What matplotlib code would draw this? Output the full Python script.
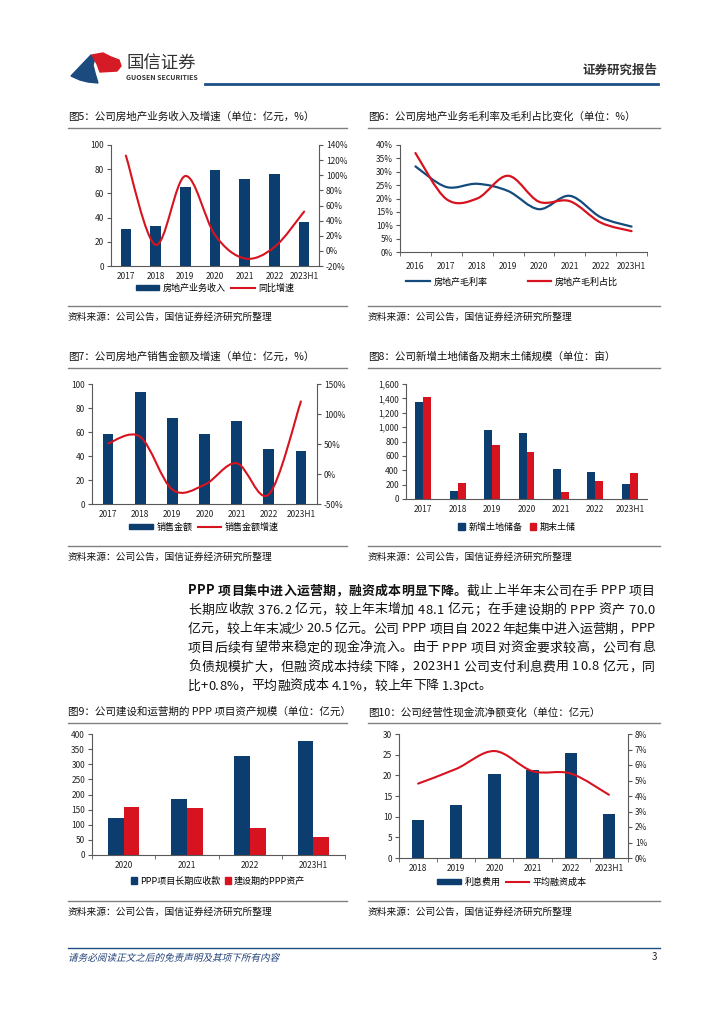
import matplotlib
matplotlib.use('Agg')
import matplotlib.pyplot as plt
from matplotlib.path import Path
from matplotlib.patches import PathPatch, Polygon, Patch
from matplotlib.lines import Line2D
from matplotlib.ticker import FuncFormatter
from matplotlib.textpath import TextPath
from matplotlib.font_manager import FontProperties
from matplotlib.transforms import Affine2D, IdentityTransform
import numpy as np

plt.rcParams['font.family'] = ['Noto Sans CJK SC', 'DejaVu Sans']
plt.rcParams['axes.unicode_minus'] = False

# ---- data ----
years5 = ['2017', '2018', '2019', '2020', '2021', '2022', '2023H1']
revenue5 = [30.3, 32.9, 65.4, 79.3, 71.7, 76.1, 36.1]
growth5 = [126, 8, 99, 21, -10, 5, 52]

years6 = ['2016', '2017', '2018', '2019', '2020', '2021', '2022', '2023H1']
margin6 = [32.0, 24.3, 25.5, 22.8, 16.0, 21.0, 13.0, 9.5]
share6 = [37.0, 19.8, 20.0, 28.5, 18.8, 19.0, 11.0, 7.8]

years7 = ['2017', '2018', '2019', '2020', '2021', '2022', '2023H1']
sales7 = [58.5, 93.5, 71.5, 58.5, 69.0, 45.5, 44.5]
sales_growth7 = [51, 62, -26, -18, 18, -34, 121]

years8 = ['2017', '2018', '2019', '2020', '2021', '2022', '2023H1']
new_land8 = [1345, 116, 965, 923, 417, 376, 209]
land_bank8 = [1415, 218, 751, 649, 97, 255, 362]

years9 = ['2020', '2021', '2022', '2023H1']
ppp_recv9 = [121, 185, 328.1, 376.2]
ppp_build9 = [159, 156.5, 90.5, 60.5]

years10 = ['2018', '2019', '2020', '2021', '2022', '2023H1']
interest10 = [9.2, 12.85, 20.4, 21.3, 25.5, 10.7]
fin_cost10 = [4.8, 5.75, 6.9, 5.6, 5.45, 4.08]

# each line: list of (text, bold)
para = [
    [('PPP 项目集中进入运营期，融资成本明显下降。', True), ('截止上半年末公司在手 PPP 项目', False)],
    [('长期应收款 376.2 亿元，较上年末增加 48.1 亿元；在手建设期的 PPP 资产 70.0', False)],
    [('亿元，较上年末减少 20.5 亿元。公司 PPP 项目自 2022 年起集中进入运营期，PPP', False)],
    [('项目后续有望带来稳定的现金净流入。由于 PPP 项目对资金要求较高，公司有息', False)],
    [('负债规模扩大，但融资成本持续下降，2023H1 公司支付利息费用 10.8 亿元，同', False)],
    [('比+0.8%，平均融资成本 4.1%，较上年下降 1.3pct。', False)],
]

NAVY = '#0B3D6F'
RED = '#D7131F'
LINE_BLUE = '#134B7D'
GREY = '#595959'

W, H = 724, 1024
fig = plt.figure(figsize=(7.24, 10.24), dpi=100)
renderer = fig.canvas.get_renderer()


def box(l, t, r, b):
    return [l / W, 1 - b / H, (r - l) / W, (b - t) / H]


def fx(x):
    return x / W


def fy(y):
    return 1 - y / H


def smooth(ax, xs, ys, color, lw):
    # Excel-style smoothed line as cubic bezier segments
    p = np.column_stack([xs, ys]).astype(float)
    n = len(p)
    verts = [p[0]]
    codes = [Path.MOVETO]
    for i in range(n - 1):
        p0 = p[max(i - 1, 0)]
        p1 = p[i]
        p2 = p[i + 1]
        p3 = p[min(i + 2, n - 1)]
        verts += [p1 + (p2 - p0) / 6, p2 - (p3 - p1) / 6, p2]
        codes += [Path.CURVE4] * 3
    ax.add_patch(PathPatch(Path(verts, codes), fill=False, edgecolor=color,
                           lw=lw, capstyle='round', joinstyle='round'))


def frame(title, x0, x1, yt, ys):
    fig.text(fx(x0), fy(yt), title, fontsize=7.6, va='center', ha='left', color='#111111')
    fig.add_artist(Line2D([fx(x0), fx(x1)], [fy(yt + 11)] * 2, color='#808080', lw=1))
    fig.add_artist(Line2D([fx(x0), fx(x1)], [fy(ys - 11)] * 2, color='#808080', lw=1))
    fig.text(fx(x0), fy(ys), '资料来源：公司公告，国信证券经济研究所整理', fontsize=7,
             va='center', ha='left', color='#111111')


def style(ax, boundary_ticks=False, n=0):
    for s in ['top', 'right']:
        ax.spines[s].set_visible(False)
    ax.spines['left'].set_color(GREY)
    ax.spines['bottom'].set_color(GREY)
    ax.tick_params(axis='y', labelsize=6, length=3, color=GREY, labelcolor='#222222', pad=2)
    ax.tick_params(axis='x', labelsize=6, length=0, labelcolor='#222222', pad=4)
    if boundary_ticks:
        ax.set_xticks(np.arange(n + 1) - 0.5, minor=True)
        ax.tick_params(axis='x', which='minor', length=3, color=GREY)


def right_axis(ax, lo, hi, step):
    ax2 = ax.twinx()
    ax2.set_ylim(lo, hi)
    ax2.set_yticks(range(lo, hi + 1, step))
    ax2.yaxis.set_major_formatter(pct)
    for s in ['top', 'left', 'bottom']:
        ax2.spines[s].set_visible(False)
    ax2.spines['right'].set_color(GREY)
    ax2.tick_params(axis='y', labelsize=6, length=3, color=GREY, labelcolor='#222222', pad=2)
    return ax2


pct = FuncFormatter(lambda v, p: '%d%%' % v)

# ---- header ----
fig.add_artist(Polygon([(fx(71), fy(76)), (fx(91), fy(55)), (fx(95), fy(58)), (fx(93), fy(65)),
                        (fx(95), fy(73)), (fx(98), fy(83)), (fx(88), fy(82)), (fx(80), fy(80))],
                       closed=True, color='#1A4A7E', transform=fig.transFigure))
fig.add_artist(Polygon([(fx(92), fy(55)), (fx(103), fy(53)), (fx(111), fy(57)), (fx(119), fy(60)),
                        (fx(121), fy(66)), (fx(117), fy(71)), (fx(100), fy(72)), (fx(97), fy(64))],
                       closed=True, color='#D51B25', transform=fig.transFigure))
fig.text(fx(126), fy(64), '国信证券', fontsize=12.5, color='#333333', va='center', ha='left')
fig.text(fx(126), fy(78), 'GUOSEN SECURITIES', fontsize=5, color='#333333', va='center',
         ha='left', weight='bold')
fig.add_artist(Line2D([fx(205), fx(658)], [fy(84)] * 2, color='#1F4E85', lw=2))
fig.text(fx(657), fy(70), '证券研究报告', fontsize=9, weight='bold', color='#333333',
         va='center', ha='right')

# ---- chart 5 ----
frame('图5：公司房地产业务收入及增速（单位：亿元，%）', 68, 347, 117, 317)
ax = fig.add_axes(box(111, 145, 319, 266))
x = np.arange(len(years5))
ax.bar(x, revenue5, width=0.36, color=NAVY)
ax.set_xlim(-0.5, len(years5) - 0.5)
ax.set_ylim(0, 100)
ax.set_yticks(range(0, 101, 20))
ax.set_xticks(x)
ax.set_xticklabels(years5)
style(ax)
ax2 = right_axis(ax, -20, 140, 20)
smooth(ax2, x, growth5, RED, 1.5)
fig.legend([Patch(color=NAVY), Line2D([], [], color=RED, lw=1.5)], ['房地产业务收入', '同比增速'],
           loc='center', bbox_to_anchor=(fx(215), fy(288)), ncol=2, frameon=False, fontsize=6.5,
           handlelength=2.6, handleheight=0.6, columnspacing=0.6, handletextpad=0.4)

# ---- chart 6 ----
frame('图6：公司房地产业务毛利率及毛利占比变化（单位：%）', 368, 660, 117, 317)
ax = fig.add_axes(box(400, 145, 647, 252))
x = np.arange(len(years6))
ax.set_xlim(-0.5, len(years6) - 0.5)
ax.set_ylim(0, 40)
ax.set_yticks(range(0, 41, 5))
ax.yaxis.set_major_formatter(pct)
ax.set_xticks(x)
ax.set_xticklabels(years6)
style(ax, boundary_ticks=True, n=len(years6))
ax.tick_params(axis='x', pad=7)
smooth(ax, x, margin6, LINE_BLUE, 1.6)
smooth(ax, x, share6, RED, 1.6)
fig.legend([Line2D([], [], color=LINE_BLUE, lw=1.6), Line2D([], [], color=RED, lw=1.6)],
           ['房地产毛利率', '房地产毛利占比'], loc='center', bbox_to_anchor=(fx(512), fy(282)),
           ncol=2, frameon=False, fontsize=6.5, handlelength=2.6, columnspacing=4.5,
           handletextpad=0.4)

# ---- chart 7 ----
frame('图7：公司房地产销售金额及增速（单位：亿元，%）', 68, 347, 357, 557)
ax = fig.add_axes(box(92, 384, 317, 504))
x = np.arange(len(years7))
ax.bar(x, sales7, width=0.33, color=NAVY)
ax.set_xlim(-0.5, len(years7) - 0.5)
ax.set_ylim(0, 100)
ax.set_yticks(range(0, 101, 20))
ax.set_xticks(x)
ax.set_xticklabels(years7)
style(ax)
ax2 = right_axis(ax, -50, 150, 50)
smooth(ax2, x, sales_growth7, RED, 1.5)
fig.legend([Patch(color=NAVY), Line2D([], [], color=RED, lw=1.5)], ['销售金额', '销售金额增速'],
           loc='center', bbox_to_anchor=(fx(204), fy(527)), ncol=2, frameon=False, fontsize=6.5,
           handlelength=2.6, handleheight=0.6, columnspacing=0.6, handletextpad=0.4)

# ---- chart 8 ----
frame('图8：公司新增土地储备及期末土储规模（单位：亩）', 368, 660, 357, 557)
ax = fig.add_axes(box(406, 384, 647, 499))
x = np.arange(len(years8))
bw = 0.23
ax.bar(x - bw / 2, new_land8, width=bw, color=NAVY)
ax.bar(x + bw / 2, land_bank8, width=bw, color=RED)
ax.set_xlim(-0.5, len(years8) - 0.5)
ax.set_ylim(0, 1600)
ax.set_yticks(range(0, 1601, 200))
ax.yaxis.set_major_formatter(FuncFormatter(lambda v, p: '{:,}'.format(int(v))))
ax.set_xticks(x)
ax.set_xticklabels(years8)
style(ax)
fig.legend([Patch(color=NAVY), Patch(color=RED)], ['新增土地储备', '期末土储'],
           loc='center', bbox_to_anchor=(fx(517), fy(527)), ncol=2, frameon=False, fontsize=6.5,
           handlelength=0.7, handleheight=0.7, columnspacing=0.8, handletextpad=0.4)

# ---- paragraph (justified, char by char) ----
FS = 9.3


def text_w(s, bold):
    t = fig.text(0, 0, s, fontsize=FS, weight='bold' if bold else 'normal')
    w = t.get_window_extent(renderer).width
    t.remove()
    return w


x_left, x_right = 188, 655
for li, segs in enumerate(para):
    y_base = 590 + 19 * li + 4.5
    total = sum(text_w(s, b) for s, b in segs)
    nchar = sum(len(s) for s, b in segs)
    last = li == len(para) - 1
    gap = 0 if last else (x_right - x_left - total) / (nchar - 1)
    cursor = x_left
    g = 0
    for s, b in segs:
        for k, c in enumerate(s):
            if c != ' ':
                r = cursor + text_w(s[:k + 1], b) + g * gap
                fig.text(fx(r), fy(y_base), c, fontsize=FS, weight='bold' if b else 'normal',
                         ha='right', va='baseline', color='#111111')
            g += 1
        cursor += text_w(s, b)

# ---- chart 9 ----
frame('图9：公司建设和运营期的 PPP 项目资产规模（单位：亿元）', 68, 347, 712, 912)
ax = fig.add_axes(box(92, 734, 345, 855))
x = np.arange(len(years9))
bw = 0.25
ax.bar(x - bw / 2, ppp_recv9, width=bw, color=NAVY)
ax.bar(x + bw / 2, ppp_build9, width=bw, color=RED)
ax.set_xlim(-0.5, len(years9) - 0.5)
ax.set_ylim(0, 400)
ax.set_yticks(range(0, 401, 50))
ax.set_xticks(x)
ax.set_xticklabels(years9)
style(ax, boundary_ticks=True, n=len(years9))
fig.legend([Patch(color=NAVY), Patch(color=RED)], ['PPP项目长期应收款', '建设期的PPP资产'],
           loc='center', bbox_to_anchor=(fx(218), fy(881)), ncol=2, frameon=False, fontsize=6.5,
           handlelength=0.7, handleheight=0.7, columnspacing=0.5, handletextpad=0.3)

# ---- chart 10 ----
frame('图10：公司经营性现金流净额变化（单位：亿元）', 368, 660, 712, 912)
ax = fig.add_axes(box(399, 734, 628, 858))
x = np.arange(len(years10))
ax.bar(x, interest10, width=0.32, color=NAVY)
ax.set_xlim(-0.5, len(years10) - 0.5)
ax.set_ylim(0, 30)
ax.set_yticks(range(0, 31, 5))
ax.set_xticks(x)
ax.set_xticklabels(years10)
style(ax, boundary_ticks=True, n=len(years10))
ax2 = right_axis(ax, 0, 8, 1)
smooth(ax2, x, fin_cost10, RED, 1.5)
fig.legend([Patch(color=NAVY), Line2D([], [], color=RED, lw=1.5)], ['利息费用', '平均融资成本'],
           loc='center', bbox_to_anchor=(fx(512), fy(882)), ncol=2, frameon=False, fontsize=6.5,
           handlelength=2.6, handleheight=0.6, columnspacing=0.6, handletextpad=0.4)

# ---- footer ----
fig.add_artist(Line2D([fx(68), fx(660)], [fy(948)] * 2, color='#1F4E85', lw=1))
tp = TextPath((0, 0), '请务必阅读正文之后的免责声明及其项下所有内容', size=9.6,
              prop=FontProperties(family='Noto Sans CJK SC'))
tr = Affine2D().skew_deg(14, 0).translate(68, H - 961)
fig.add_artist(PathPatch(tr.transform_path(tp), transform=IdentityTransform(),
                         facecolor='#1F3F77', edgecolor='none'))
fig.text(fx(657), fy(957), '3', fontsize=7, color='#222222', va='center', ha='right')

fig.savefig('out.png', dpi=100)
